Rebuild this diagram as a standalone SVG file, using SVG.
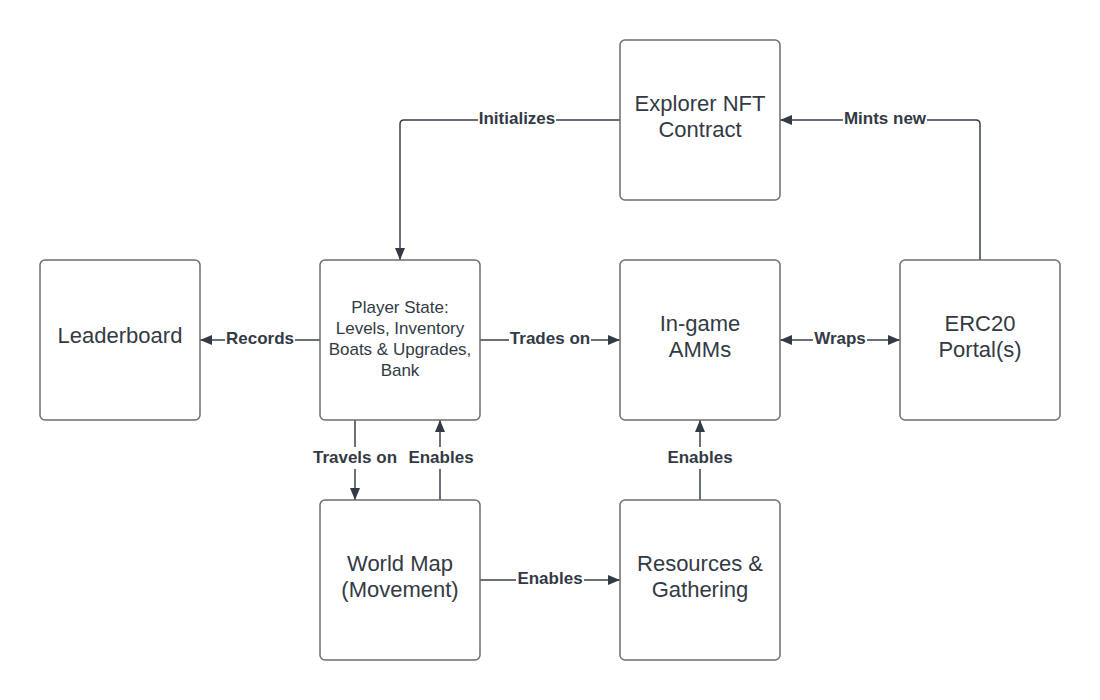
<svg xmlns="http://www.w3.org/2000/svg" width="1100" height="700" viewBox="0 0 1100 700">
<style>
.box{fill:#fff;stroke:#6e6e6e;stroke-width:1.5}
.t{font-family:"Liberation Sans",Arial,sans-serif;font-size:22px;fill:#333a45;text-anchor:middle}
.ts{font-family:"Liberation Sans",Arial,sans-serif;font-size:17px;fill:#333a45;text-anchor:middle}
.c{fill:none;stroke:#3a404a;stroke-width:1.5}
.lbl{font-family:"Liberation Sans",Arial,sans-serif;font-size:17px;font-weight:bold;fill:#333a45;text-anchor:middle}
.bg{fill:#fff}
</style>
<defs>
<marker id="ah" viewBox="0 0 12 10" refX="12" refY="5" markerWidth="12" markerHeight="10" markerUnits="userSpaceOnUse" orient="auto-start-reverse">
<path d="M0,0 L12,5 L0,10 z" fill="#333a45"/>
</marker>
</defs>
<rect width="1100" height="700" fill="#fff"/>
<g id="connectors">
<path class="c" d="M620,120 H404 Q400,120 400,124 V260" marker-end="url(#ah)"/>
<path class="c" d="M980,260 V124 Q980,120 976,120 H780" marker-end="url(#ah)"/>
<path class="c" d="M320,340 H200" marker-end="url(#ah)"/>
<path class="c" d="M480,340 H620" marker-end="url(#ah)"/>
<path class="c" d="M780,340 H900" marker-start="url(#ah)" marker-end="url(#ah)"/>
<path class="c" d="M355,420 V500" marker-end="url(#ah)"/>
<path class="c" d="M440,500 V420" marker-end="url(#ah)"/>
<path class="c" d="M480,580 H620" marker-end="url(#ah)"/>
<path class="c" d="M700,500 V420" marker-end="url(#ah)"/>
<rect class="bg" x="478" y="110" width="78" height="18"/>
<text class="lbl" x="517" y="124">Initializes</text>
<rect class="bg" x="843" y="110" width="84" height="18"/>
<text class="lbl" x="885" y="124">Mints new</text>
<rect class="bg" x="225" y="330" width="70" height="18"/>
<text class="lbl" x="260" y="344">Records</text>
<rect class="bg" x="509" y="330" width="82" height="18"/>
<text class="lbl" x="550" y="344">Trades on</text>
<rect class="bg" x="813" y="330" width="54" height="18"/>
<text class="lbl" x="840" y="344">Wraps</text>
<rect class="bg" x="311" y="447" width="88" height="22"/>
<text class="lbl" x="355" y="463">Travels on</text>
<rect class="bg" x="407" y="447" width="68" height="22"/>
<text class="lbl" x="441" y="463">Enables</text>
<rect class="bg" x="516" y="570" width="68" height="18"/>
<text class="lbl" x="550" y="584">Enables</text>
<rect class="bg" x="666" y="447" width="68" height="22"/>
<text class="lbl" x="700" y="463">Enables</text>
</g>
<g id="explorer-nft"><rect class="box" x="620" y="40" width="160" height="160" rx="5"/><text class="t" x="700" y="111">Explorer NFT</text><text class="t" x="700" y="137">Contract</text></g>
<g id="leaderboard"><rect class="box" x="40" y="260" width="160" height="160" rx="5"/><text class="t" x="120" y="343">Leaderboard</text></g>
<g id="player-state"><rect class="box" x="320" y="260" width="160" height="160" rx="5"/><text class="ts" x="400" y="313">Player State:</text><text class="ts" x="400" y="334">Levels, Inventory</text><text class="ts" x="400" y="355">Boats &amp; Upgrades,</text><text class="ts" x="400" y="376">Bank</text></g>
<g id="amms"><rect class="box" x="620" y="260" width="160" height="160" rx="5"/><text class="t" x="700" y="331">In-game</text><text class="t" x="700" y="357">AMMs</text></g>
<g id="erc20"><rect class="box" x="900" y="260" width="160" height="160" rx="5"/><text class="t" x="980" y="331">ERC20</text><text class="t" x="980" y="357">Portal(s)</text></g>
<g id="world-map"><rect class="box" x="320" y="500" width="160" height="160" rx="5"/><text class="t" x="400" y="571">World Map</text><text class="t" x="400" y="597">(Movement)</text></g>
<g id="resources"><rect class="box" x="620" y="500" width="160" height="160" rx="5"/><text class="t" x="700" y="571">Resources &amp;</text><text class="t" x="700" y="597">Gathering</text></g>
</svg>
